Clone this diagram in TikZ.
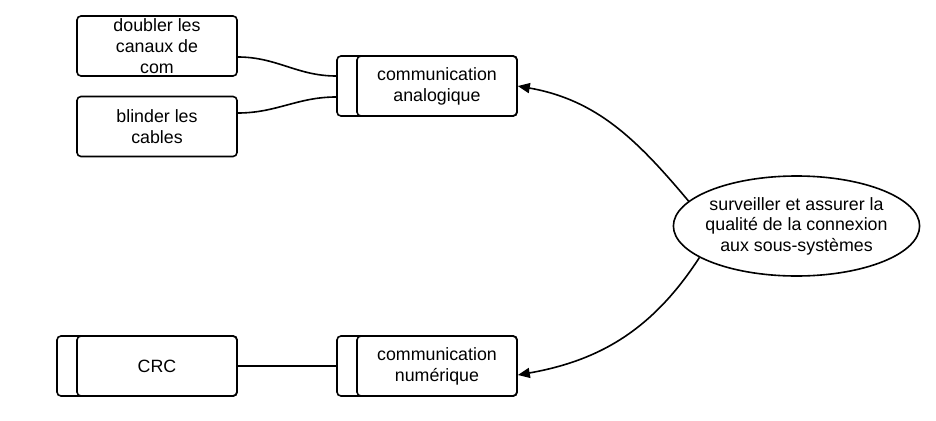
\documentclass[tikz,border=0pt]{standalone}
\usepackage{fontspec}
\setmainfont{Liberation Sans}
\usetikzlibrary{arrows.meta,shapes.geometric}

\tikzset{
  box/.style={draw, rounded corners=4pt, line width=1.6pt, minimum width=160pt,
    minimum height=60pt, inner sep=0pt, align=center,
    font=\fontsize{17.8pt}{21pt}\selectfont},
  frame/.style={draw, rounded corners=4pt, line width=1.6pt, minimum width=180pt,
    minimum height=60pt, inner sep=0pt},
  goal/.style={draw, ellipse, line width=1.6pt, minimum width=241pt,
    minimum height=100pt, inner ysep=0pt, inner xsep=-4pt, align=center,
    font=\fontsize{17.8pt}{20.5pt}\selectfont},
  link/.style={line width=1.6pt},
  arrow/.style={link, -{Triangle[length=12pt,width=10pt]}},
}

\begin{document}
\begin{tikzpicture}[x=1pt,y=1pt]
  \useasboundingbox (0,0) rectangle (936,-420);
  \node[box] (doubler) at (157,-46) {doubler les\\canaux de\\com};
  \node[box] (blinder) at (157,-126.5) {blinder les\\cables};
  \node[frame] (ana) at (427,-86) {};
  \node[box] (anatext) at (437,-86) {communication\\analogique};
  \node[frame] (crc) at (147,-366) {};
  \node[box] (crctext) at (157,-366) {CRC};
  \node[frame] (num) at (427,-366) {};
  \node[box] (numtext) at (437,-366) {communication\\num\'erique};
  \node[goal] (sys) at (796.5,-226)
    {surveiller et assurer la\\qualit\'e de la connexion\\aux sous-syst\`emes};

  \draw[link] ([yshift=-11pt]doubler.east) to[out=0,in=180] ([yshift=10pt]ana.west);
  \draw[link] ([yshift=13.5pt]blinder.east) to[out=0,in=180] ([yshift=-11pt]ana.west);
  \draw[link] (crc.east) -- (num.west);
  \draw[arrow] (sys.167) to[out=130,in=-10] (ana.east);
  \draw[arrow] (sys.198) to[out=237,in=10] ([yshift=-9pt]num.east);
\end{tikzpicture}
\end{document}
